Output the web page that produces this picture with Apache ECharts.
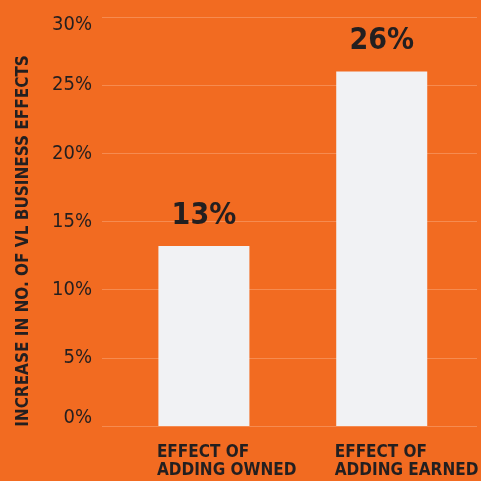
<!DOCTYPE html>
<html><head><meta charset="utf-8">
<script src="https://cdn.jsdelivr.net/npm/echarts@6/dist/echarts.min.js"></script>
<style>html,body{margin:0;padding:0;background:#F26B21}#c{width:481px;height:481px}</style>
</head><body><div id="c"></div>
<script>
const categories = ['EFFECT OF\nADDING OWNED', 'EFFECT OF\nADDING EARNED'];
const values = [13.2, 26];
const valueLabels = ['13%', '26%'];
const yTicks = [0, 5, 10, 15, 20, 25, 30];
const yTitle = 'INCREASE IN NO. OF VL BUSINESS EFFECTS';

const FONT = '"Liberation Sans Narrow", "DejaVu Sans Condensed", sans-serif';
const dark = '#231F20';
const yMin = yTicks[0], yMax = yTicks[yTicks.length - 1];
const chart = echarts.init(document.getElementById('c'));
chart.setOption({
  backgroundColor: '#F26B21',
  animation: false,
  graphic: [{
    type: 'text', x: 24, y: 241, rotation: Math.PI / 2,
    style: {text: yTitle, fill: dark, font: 'bold 17px ' + FONT,
      textAlign: 'center', textVerticalAlign: 'middle'}
  }],
  grid: [
    {left: 102, right: 4, top: 17, bottom: 55},
    {left: 115, right: 9, top: 17, bottom: 55}
  ],
  xAxis: [
    {gridIndex: 0, type: 'category', data: ['a'], show: false},
    {gridIndex: 1, type: 'category', data: categories,
     axisLine: {show: false}, axisTick: {show: false},
     axisLabel: {interval: 0, color: dark, fontFamily: FONT, fontWeight: 'bold', fontSize: 17,
       lineHeight: 18, align: 'left', margin: 18, padding: [0, 0, 0, -47]}}
  ],
  yAxis: [
    {gridIndex: 0, type: 'value', min: yMin, max: yMax, interval: 5,
     axisLine: {show: false}, axisTick: {show: false},
     splitLine: {lineStyle: {color: '#F68B50', width: 1}},
     axisLabel: {color: dark, fontFamily: FONT, fontSize: 20, margin: 10,
       formatter: v => v === yMax ? '{top|' + v + '%}' : (v === yMin ? '{bot|' + v + '%}' : v + '%'),
       rich: {
         top: {color: dark, fontFamily: FONT, fontSize: 20, padding: [16, 0, 0, 0]},
         bot: {color: dark, fontFamily: FONT, fontSize: 20, padding: [0, 0, 16, 0]}
       }}},
    {gridIndex: 1, type: 'value', min: yMin, max: yMax, interval: 5, show: false}
  ],
  series: [{
    type: 'bar', xAxisIndex: 1, yAxisIndex: 1, data: values, barWidth: 91,
    itemStyle: {color: '#F1F2F4'},
    label: {show: true, position: 'top', distance: 15, color: dark, fontFamily: FONT,
      fontWeight: 'bold', fontSize: 30, formatter: p => valueLabels[p.dataIndex]}
  }]
});
</script></body></html>
